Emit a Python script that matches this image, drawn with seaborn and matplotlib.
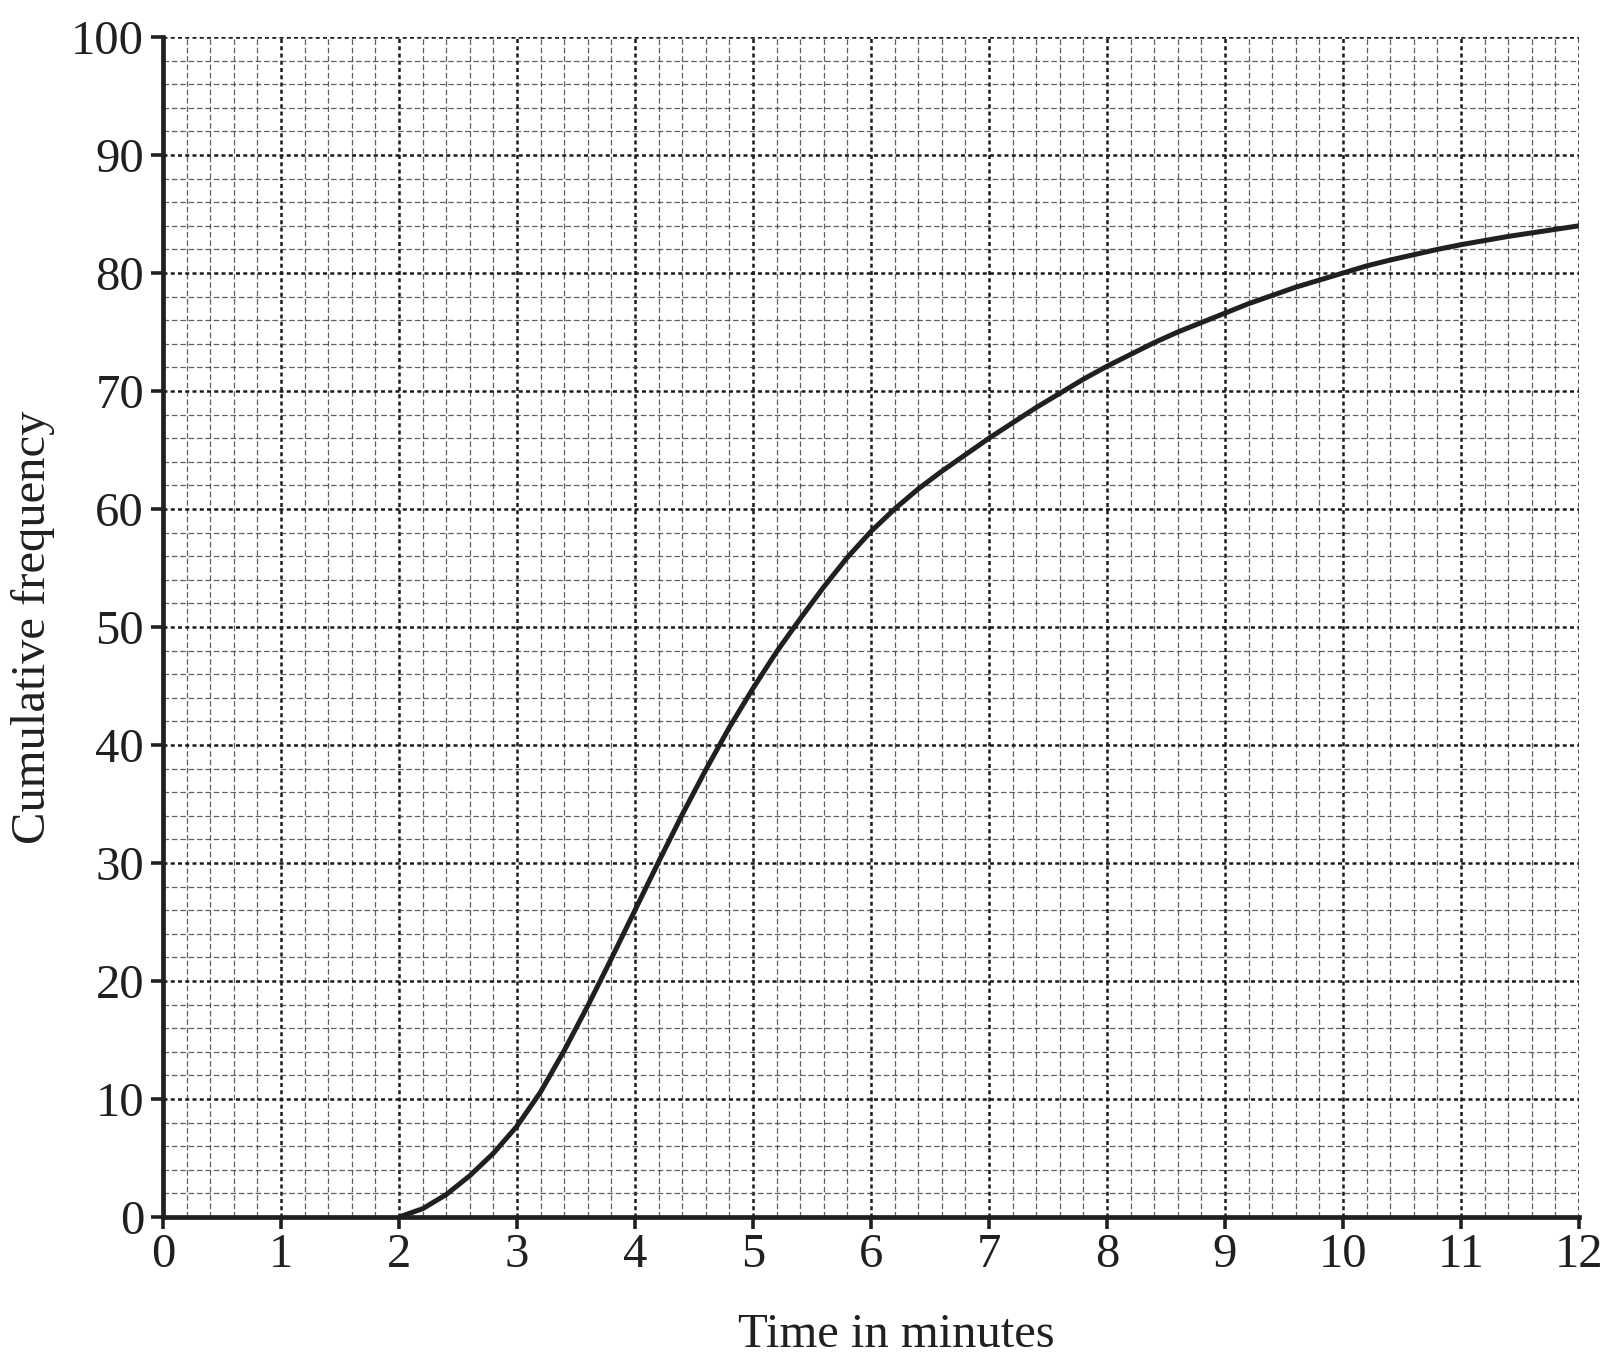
import matplotlib
matplotlib.use("Agg")
import matplotlib.pyplot as plt
from matplotlib.ticker import MultipleLocator
import seaborn as sns
import pandas as pd

# Data
time_min = [2.0, 2.2, 2.4, 2.6, 2.8, 3.0, 3.2, 3.4, 3.6, 3.8, 4.0, 4.2, 4.4,
            4.6, 4.8, 5.0, 5.2, 5.4, 5.6, 5.8, 6.0, 6.2, 6.4, 6.6, 6.8, 7.0,
            7.2, 7.4, 7.6, 7.8, 8.0, 8.2, 8.4, 8.6, 8.8, 9.0, 9.2, 9.4, 9.6,
            9.8, 10.0, 10.2, 10.4, 10.6, 10.8, 11.0, 11.2, 11.4, 11.6, 11.8, 12.0]
cum_freq = [0.0, 0.7, 1.9, 3.5, 5.4, 7.7, 10.6, 14.1, 17.9, 21.9, 26.0, 30.1, 34.1,
            37.9, 41.5, 44.8, 47.9, 50.7, 53.4, 55.9, 58.1, 60.0, 61.7, 63.2, 64.6, 66.0,
            67.3, 68.6, 69.8, 71.0, 72.1, 73.1, 74.1, 75.0, 75.8, 76.6, 77.4, 78.1, 78.8,
            79.4, 80.0, 80.6, 81.1, 81.55, 82.0, 82.4, 82.75, 83.1, 83.4, 83.7, 84.0]
x_ticks = list(range(0, 13))
y_ticks = list(range(0, 101, 10))

df = pd.DataFrame({"Time in minutes": time_min, "Cumulative frequency": cum_freq})

sns.set_theme(style="white")
plt.rcParams['font.family'] = ['Liberation Serif', 'DejaVu Serif']

fig = plt.figure(figsize=(16.21, 13.68), dpi=100)
ax = fig.add_axes([163/1621, 1 - 1217/1368, 1416/1621, 1180/1368])

ink = '#231f20'

ax.set_xlim(0, 12)
ax.set_ylim(0, 100)
ax.set_xticks(x_ticks)
ax.set_yticks(y_ticks)
ax.xaxis.set_minor_locator(MultipleLocator(0.2))
ax.yaxis.set_minor_locator(MultipleLocator(2))

ax.grid(which='minor', color='#3a3a3a', linewidth=0.9, linestyle=(0, (4.5, 2.2)), alpha=0.8)
ax.grid(which='major', color='#1a1a1a', linewidth=1.8, linestyle=(0, (1.6, 1.3)))
ax.set_axisbelow(True)

sns.lineplot(data=df, x="Time in minutes", y="Cumulative frequency", ax=ax,
             color=ink, linewidth=3.6, zorder=5,
             solid_joinstyle='round', solid_capstyle='butt')

for s in ['top', 'right']:
    ax.spines[s].set_visible(False)
for s in ['left', 'bottom']:
    ax.spines[s].set_linewidth(3.4)
    ax.spines[s].set_color(ink)
    ax.spines[s].set_zorder(6)

ax.tick_params(which='major', direction='out', length=8.6, width=2.6, color=ink,
               labelsize=35, labelcolor=ink, bottom=True, left=True)
ax.tick_params(axis='x', which='major', pad=3)
ax.tick_params(axis='y', which='major', pad=5)
ax.tick_params(which='minor', length=0)

ax.set_xlabel("Time in minutes", fontsize=35, color=ink, va='center', ha='center')
ax.set_ylabel("Cumulative frequency", fontsize=35, color=ink, va='center', ha='center')
ax.xaxis.set_label_coords((896 - 163) / 1416, -(1335 - 1217) / 1180)
ax.yaxis.set_label_coords(-(163 - 33) / 1416, 0.5)

fig.savefig("out.png", dpi=100, facecolor='white')
